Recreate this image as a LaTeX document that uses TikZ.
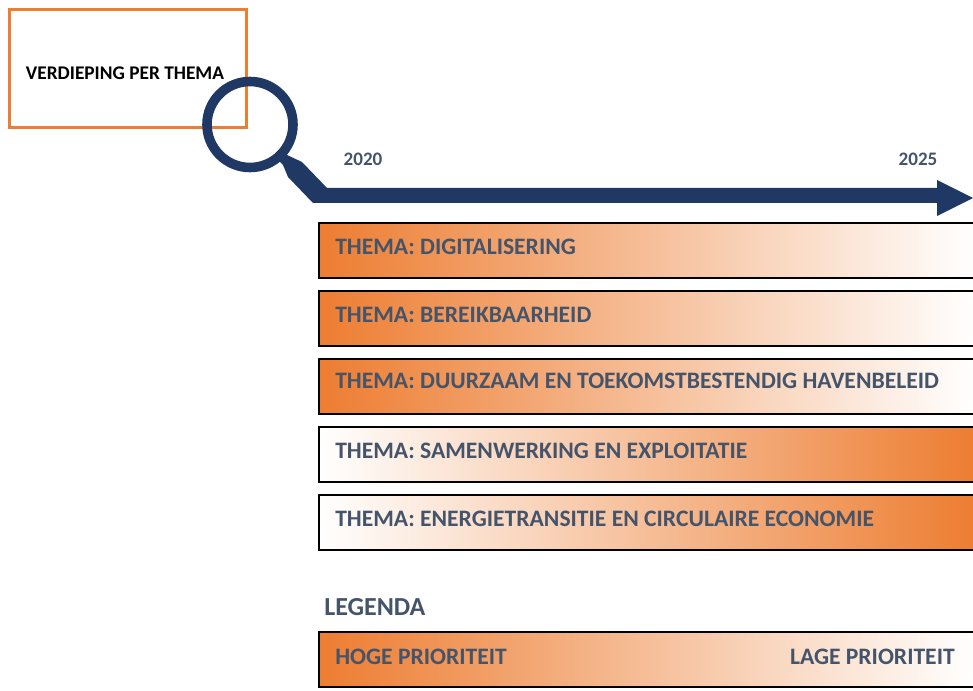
\documentclass[tikz,border=0pt]{standalone}
\usepackage{fontspec}
\setmainfont{Carlito}
\usepackage{xcolor}
\definecolor{haven}{HTML}{ED7D31}
\definecolor{marine}{HTML}{1F3864}
\definecolor{leitext}{HTML}{44546A}
\tikzset{
    barbox/.style={draw=black, line width=1.2pt, anchor=north west, inner sep=0pt, outer sep=0pt,
        minimum width=492pt, minimum height=41.25pt},
    highfirst/.style={barbox, left color=haven, right color=white},
    lowfirst/.style={barbox, left color=white, right color=haven},
    themalabel/.style={anchor=west, inner sep=0pt, text=leitext, font=\fontsize{17.7}{20}\selectfont\bfseries},
    yearlabel/.style={inner sep=0pt, text=leitext, font=\fontsize{14.3}{17}\selectfont\bfseries}
}
\begin{document}
\begin{tikzpicture}[x=0.75pt, y=-0.75pt]
    \useasboundingbox (0,0) rectangle (973,691);

    % Title box
    \node[draw=haven, line width=2.2pt, anchor=north west, inner sep=0pt, outer sep=0pt, minimum width=177.75pt, minimum height=88.5pt] (titlebox) at (9.5,9.5) {};
    \node[inner sep=0pt, text=black, font=\fontsize{14.5}{17}\selectfont\bfseries] (titletext) at (125,73) {VERDIEPING PER THEMA};

    % Magnifier and time axis
    \node[circle, draw=marine, line width=7.2pt, inner sep=0pt, outer sep=0pt, minimum size=64.5pt] (lens) at (250,124.5) {};
    \fill[marine] (283,152) -- (287,155) -- (302,162) -- (327,188) -- (937,188) -- (937,180) -- (973,198) -- (937,216) -- (937,203) -- (313,203) -- (288,177) -- (283,165) -- (279,161) -- cycle;
    \node[yearlabel] (startyear) at (363,159.5) {2020};
    \node[yearlabel] (endyear) at (918,159.5) {2025};

    % Themes
    \node[highfirst] (digital) at (319,223) {};
    \node[themalabel] (digitaltext) at (335,246.5) {THEMA: DIGITALISERING};

    \node[highfirst] (bereik) at (319,291) {};
    \node[themalabel] (bereiktext) at (335,314.5) {THEMA: BEREIKBAARHEID};

    \node[highfirst] (duurzaam) at (319,359) {};
    \node[themalabel] (duurzaamtext) at (335,380.5) {THEMA: DUURZAAM EN TOEKOMSTBESTENDIG HAVENBELEID};

    \node[lowfirst] (samen) at (319,427) {};
    \node[themalabel] (samentext) at (335,450.5) {THEMA: SAMENWERKING EN EXPLOITATIE};

    \node[lowfirst] (energie) at (319,495) {};
    \node[themalabel] (energietext) at (335,518.5) {THEMA: ENERGIETRANSITIE EN CIRCULAIRE ECONOMIE};

    % Legend
    \node[themalabel, font=\fontsize{19.5}{22}\selectfont\bfseries] (legenda) at (324,607.5) {LEGENDA};
    \node[highfirst] (legendbar) at (319,632) {};
    \node[themalabel] (hoog) at (335,656.5) {HOGE PRIORITEIT};
    \node[themalabel, anchor=east] (laag) at (955,656.5) {LAGE PRIORITEIT};
\end{tikzpicture}
\end{document}
